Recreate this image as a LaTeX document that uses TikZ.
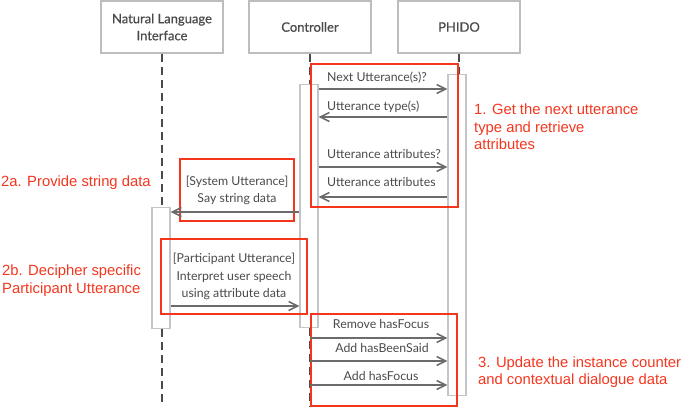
\documentclass[tikz,border=0pt]{standalone}
\usepackage{fontspec}
\setmainfont{Liberation Sans}
\newfontfamily\lbl{Lato}
\newfontfamily\lblh{Lato}[FakeBold=0.6]
\usetikzlibrary{arrows.meta}
\definecolor{hred}{HTML}{F4361E}
\definecolor{lgray}{HTML}{BDBDBD}
\definecolor{agray}{HTML}{C2C6C8}
\definecolor{mgray}{HTML}{6B6B6B}
\definecolor{tgray}{HTML}{4A4A4A}
\tikzset{
  head/.style={draw=lgray,line width=1.2pt,minimum width=122pt,minimum height=52pt,align=center,font=\lblh\fontsize{13}{17}\selectfont,text=tgray,inner sep=0pt},
  actbox/.style={draw=agray,line width=1.4pt,fill=white,minimum width=18pt,inner sep=0pt},
  life/.style={draw=tgray,line width=1.4pt,dash pattern=on 8pt off 5pt},
  msg/.style={draw=mgray,line width=1.5pt,-{Straight Barb[length=9pt,width=9pt,line width=1.5pt]}},
  mlabel/.style={font=\lbl\fontsize{12.3}{17.5}\selectfont,text=tgray,inner sep=0pt,align=center},
  redbox/.style={draw=hred,line width=1.5pt},
  note/.style={font=\fontsize{14.8}{17.5}\selectfont,text=hred,inner sep=0pt,align=left}
}
\begin{document}
\begin{tikzpicture}[x=1pt,y=-1pt]
\useasboundingbox (0,0) rectangle (685,407);
% headers
\node[head] (nli) at (162,27) {Natural Language\\Interface};
\node[head] (ctl) at (310,27) {Controller};
\node[head] (ph) at (459,27) {PHIDO};
% activation boxes
\node[actbox,minimum height=243pt,anchor=north] (ctlact) at (309,84) {};
\node[actbox,minimum height=321pt,anchor=north] (phact) at (457,74) {};
\node[actbox,minimum height=121pt,anchor=north] (nliact) at (161,207) {};
% lifelines
\draw[life] (nli.south) -- (nli.south |- nliact.north);
\draw[life] (nli.south |- nliact.south) -- (nli.south |- 0,407);
\draw[life] (ctl.south) -- (ctl.south |- ctlact.north);
\draw[life] (ctl.south |- ctlact.south) -- (ctl.south |- 0,407);
\draw[life] (ph.south) -- (ph.south |- phact.north);
% red boxes
\draw[redbox] (311,64) rectangle (458,207);
\draw[redbox] (180,159) rectangle (294,221);
\draw[redbox] (161,239) rectangle (307,314);
\draw[redbox] (311,314) rectangle (457,406);
% messages 1
\draw[msg] (ctlact.east |- 0,89) -- (phact.west |- 0,89);
\node[mlabel,anchor=west] (l1) at (327,78) {Next Utterance(s)?};
\draw[msg] (phact.west |- 0,117) -- (ctlact.east |- 0,117);
\node[mlabel,anchor=west] (l2) at (327,107) {Utterance type(s)};
\draw[msg] (ctlact.east |- 0,167) -- (phact.west |- 0,167);
\node[mlabel,anchor=west] (l3) at (327,154) {Utterance attributes?};
\draw[msg] (phact.west |- 0,197) -- (ctlact.east |- 0,197);
\node[mlabel,anchor=west] (l4) at (327,182) {Utterance attributes};
% 2a
\draw[msg] (ctlact.west |- 0,212) -- (nliact.east |- 0,212);
\node[mlabel] (l5) at (237,190.5) {[System Utterance]\\Say string data};
% 2b
\draw[msg] (nliact.east |- 0,306) -- (ctlact.west |- 0,306);
\node[mlabel] (l6) at (234,276.5) {[Participant Utterance]\\Interpret user speech\\using attribute data};
% 3
\draw[msg] (ctl.south |- 0,338) -- (phact.west |- 0,338);
\node[mlabel] (l7) at (381,324) {Remove hasFocus};
\draw[msg] (ctl.south |- 0,361) -- (phact.west |- 0,361);
\node[mlabel] (l8) at (382,348) {Add hasBeenSaid};
\draw[msg] (ctl.south |- 0,385) -- (phact.west |- 0,385);
\node[mlabel] (l9) at (381,376) {Add hasFocus};
% notes
\node[note,anchor=north west] (n1) at (474,104) {1. Get the next utterance\\type and retrieve\\attributes};
\node[note,anchor=west] (n2a) at (1,183) {2a. Provide string data};
\node[note,anchor=west] (n2b) at (2,280.5) {2b. Decipher specific\\Participant Utterance};
\node[note,anchor=west] (n3) at (478,372) {3. Update the instance counter\\and contextual dialogue data};
\end{tikzpicture}
\end{document}
